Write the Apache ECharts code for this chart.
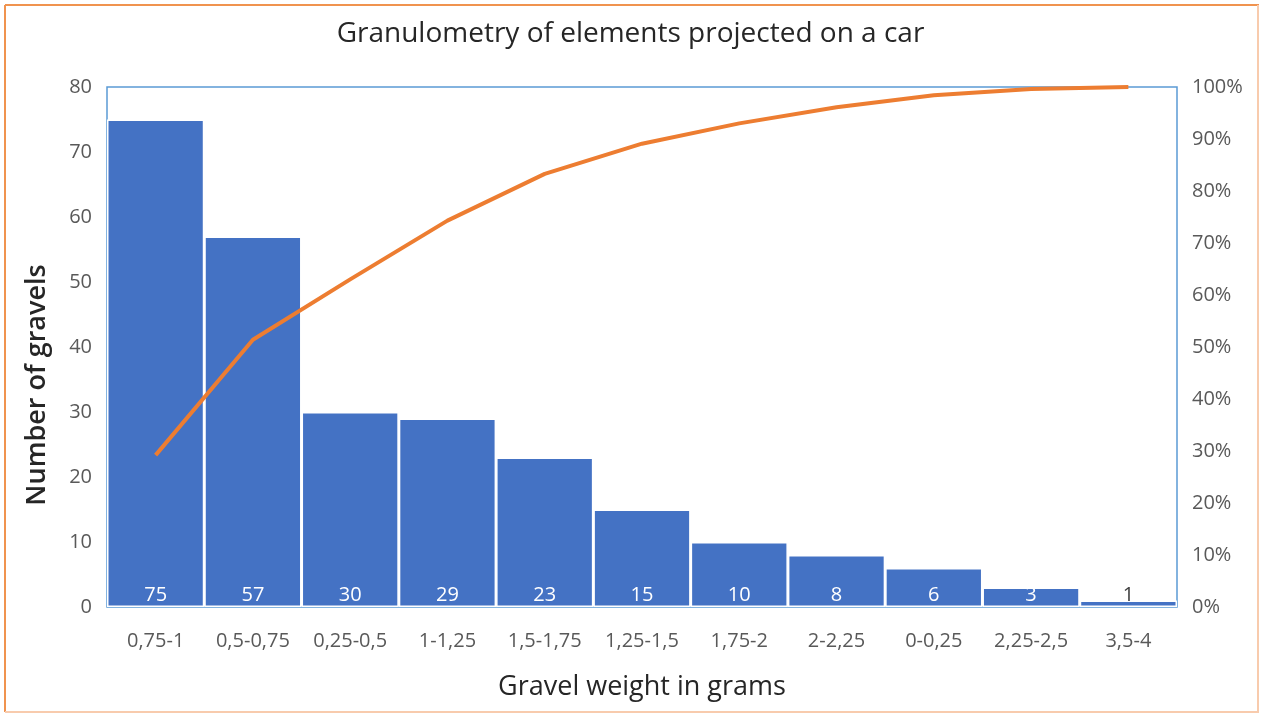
<!DOCTYPE html>
<html>
<head>
<meta charset="utf-8">
<script src="https://cdn.jsdelivr.net/npm/echarts@6/dist/echarts.min.js"></script>
<style>
  html, body { margin: 0; padding: 0; background: #ffffff; }
  #chart { width: 1261px; height: 715px; }
</style>
</head>
<body>
<div id="chart"></div>
<script>
// Weight classes (grams), sorted by count
const categories = ['0,75-1', '0,5-0,75', '0,25-0,5', '1-1,25', '1,5-1,75', '1,25-1,5', '1,75-2', '2-2,25', '0-0,25', '2,25-2,5', '3,5-4'];
// Number of gravels per class
const counts = [75, 57, 30, 29, 23, 15, 10, 8, 6, 3, 1];
// Cumulative share (%)
const cumulative = [29.2, 51.4, 63.0, 74.3, 83.3, 89.1, 93.0, 96.1, 98.4, 99.6, 100];

const FONT = 'Open Sans';
const chart = echarts.init(document.getElementById('chart'), null, { renderer: 'canvas' });

chart.setOption({
  backgroundColor: '#ffffff',
  animation: false,
  textStyle: { fontFamily: FONT },
  title: {
    text: 'Granulometry of elements projected on a car',
    left: 'center',
    top: 15,
    textStyle: { fontFamily: FONT, fontSize: 28, fontWeight: 'normal', color: '#262626' }
  },
  graphic: [
    { type: 'line', shape: { x1: 5, y1: 5, x2: 1259, y2: 5 }, style: { stroke: '#F0934F', lineWidth: 2 } },
    { type: 'line', shape: { x1: 5, y1: 5, x2: 5, y2: 712 }, style: { stroke: '#F0934F', lineWidth: 2 } },
    { type: 'line', shape: { x1: 1258, y1: 5, x2: 1258, y2: 712 }, style: { stroke: '#F8CBAD', lineWidth: 2 } },
    { type: 'line', shape: { x1: 5, y1: 712, x2: 1259, y2: 712 }, style: { stroke: '#F8CBAD', lineWidth: 2 } }
  ],
  grid: {
    left: 107, right: 84, top: 87, bottom: 108,
    show: true, borderColor: '#5B9BD5', borderWidth: 1.5, backgroundColor: 'transparent'
  },
  xAxis: {
    type: 'category',
    data: categories,
    name: 'Gravel weight in grams',
    nameLocation: 'middle',
    nameGap: 67,
    nameTextStyle: { fontFamily: FONT, fontSize: 27, color: '#262626' },
    axisLine: { show: false },
    axisTick: { show: false },
    axisLabel: { margin: 24, fontSize: 20, color: '#595959', interval: 0 }
  },
  yAxis: [
    {
      type: 'value', min: 0, max: 80, interval: 10,
      name: 'Number of gravels',
      nameLocation: 'middle',
      nameGap: 56,
      nameRotate: 90,
      nameTextStyle: { fontFamily: FONT, fontSize: 27, color: '#262626', fontWeight: 600, padding: [0, 76, 0, 0] },
      axisLine: { show: false }, axisTick: { show: false }, splitLine: { show: false },
      axisLabel: { margin: 15, fontSize: 20, color: '#595959' }
    },
    {
      type: 'value', min: 0, max: 100, interval: 10,
      axisLine: { show: false }, axisTick: { show: false }, splitLine: { show: false },
      axisLabel: { margin: 15, fontSize: 20, color: '#595959', formatter: '{value}%' }
    }
  ],
  series: [
    {
      type: 'bar',
      data: counts.map((v, i) => ({
        value: v,
        label: i === counts.length - 1 ? { color: '#404040' } : undefined
      })),
      barCategoryGap: 0,
      itemStyle: { color: '#4472C4', borderColor: '#ffffff', borderWidth: 1.5 },
      label: {
        show: true, position: 'insideBottom', distance: 2,
        color: '#ffffff', fontSize: 20, fontFamily: FONT
      },
      z: 2
    },
    {
      type: 'line',
      yAxisIndex: 1,
      data: cumulative,
      symbol: 'none',
      lineStyle: { color: '#ED7D31', width: 4 },
      z: 3
    }
  ]
});
</script>
</body>
</html>
